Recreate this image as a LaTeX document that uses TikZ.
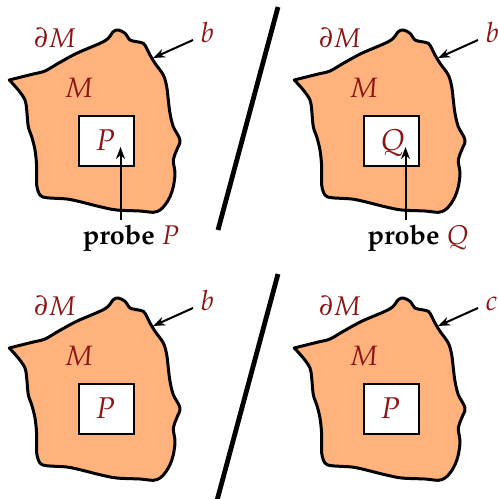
\documentclass[tikz,border=0pt]{standalone}
\usepackage[T1]{fontenc}
\usepackage{mathpazo}
\usetikzlibrary{arrows.meta}
\definecolor{blobfill}{RGB}{255,178,124}
\definecolor{labred}{RGB}{140,20,20}
\tikzset{
  blob/.style={draw=black, line width=1.5pt, fill=blobfill, line join=round},
  probebox/.style={draw=black, line width=0.6pt, fill=white, minimum width=27.5pt,
    minimum height=25pt, inner sep=0pt},
  lab/.style={text=labred, inner sep=0pt, anchor=base west},
  ptr/.style={-{Stealth[length=6pt,width=4.5pt]}, line width=1pt},
  divider/.style={line width=2.4pt},
  probetext/.style={font=\fontsize{13.5}{13.5}\selectfont\bfseries, inner sep=0pt, anchor=base}
}
\newcommand\drawpanel[5]{%
  \begin{scope}[shift={(#1,#2)}]
    \draw[blob] plot[smooth, tension=0.55] coordinates {
      (9.3,80) (20,77.3) (33.3,74) (45,71) (58.3,63.3) (76.7,53.3) (100,43.3)
      (108.3,38.3) (113.3,31.7) (118.3,30) (125,33.3) (130,40) (136.7,41.7)
      (143.3,43.3) (146.7,48.3) (150,55) (155,63.3) (163.3,75) (166.7,86.7)
      (168.3,100) (170,113.3) (173.3,126.7) (180,140) (176.7,150) (173.3,160)
      (175,173.3) (173.3,186.7) (170,196.7) (165,205) (160,210) (153.3,212.3)
      (140,211) (116.7,210) (100,206.7) (80,201.7) (66.7,199) (46.7,197.7)
      (40,195) (36.7,185) (36.7,166.7) (35,150) (31.7,136.7) (28.3,126.7)
      (26.7,110) (25,100) (18.3,90) (9.3,80)} -- cycle;
    \node[probebox] (sq#3) at (106.5,141) {};
    \node[lab, font=\fontsize{15}{15}\selectfont] (sl#3) at (95,150) {$#4$};
    \node[lab, font=\fontsize{13.5}{13.5}\selectfont] (dM#3) at (34,47) {$\partial M$};
    \node[lab, font=\fontsize{14}{14}\selectfont] (M#3) at (64,97) {$M$};
    \node[lab, font=\fontsize{14}{14}\selectfont] (lb#3) at (200,42.5) {$#5$};
    \coordinate (bd#3) at (153,58);
    \coordinate (bs#3) at (193,40);
    \draw[ptr] (bs#3) -- (bd#3);
  \end{scope}}
\begin{document}
\begin{tikzpicture}[x=0.5pt, y=-0.5pt]
  \useasboundingbox (0,0) rectangle (498,499);
  \drawpanel{0}{0}{A}{P}{b}
  \drawpanel{285}{0}{B}{Q}{b}
  \drawpanel{0}{268}{C}{P}{b}
  \drawpanel{285}{268}{D}{P}{c}
  % probes
  \node[probetext] (prA) at (131,244) {probe \textcolor{labred}{$P$}};
  \coordinate (ptA) at (120.5,147);
  \draw[ptr] ([yshift=2pt]prA.north -| ptA) -- (ptA);
  \node[probetext] (prB) at (418,244) {probe \textcolor{labred}{$Q$}};
  \coordinate (ptB) at (405.5,147);
  \draw[ptr] ([yshift=2pt]prB.north -| ptB) -- (ptB);
  % dividers
  \coordinate (d1a) at (278,7);
  \coordinate (d1b) at (218,230);
  \coordinate (d2a) at (278,274);
  \coordinate (d2b) at (216.6,502);
  \draw[divider] (d1a) -- (d1b);
  \draw[divider] (d2a) -- (d2b);
\end{tikzpicture}
\end{document}
